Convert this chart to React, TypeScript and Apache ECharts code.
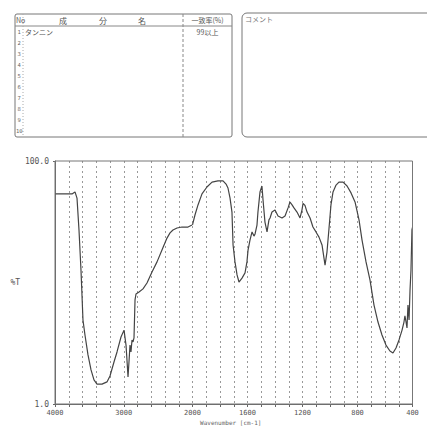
import React, { useEffect, useRef } from "react";
import * as echarts from "echarts";

// Spectrum (wavenumber in cm-1, transmittance in %T)
const wavenumbers = [
  4000, 3855, 3753, 3709, 3680, 3651, 3622, 3593, 3564, 3520, 3476, 3433, 3389, 3316, 3244, 3200,
  3142, 3098, 3040, 2996, 2967, 2953, 2938, 2924, 2909, 2895, 2880, 2865, 2851, 2836, 2822, 2778,
  2720, 2662, 2589, 2516, 2444, 2371, 2327, 2284, 2225, 2153, 2065, 2007, 2000,
  1982, 1960, 1931, 1895, 1858, 1815, 1778, 1756, 1742, 1727, 1713, 1705, 1691, 1676, 1662, 1640,
  1618, 1604, 1596, 1582, 1567, 1553, 1545, 1531, 1524, 1509, 1495, 1487, 1473, 1458, 1444, 1436,
  1422, 1400, 1378, 1349, 1327, 1305, 1291, 1276, 1262, 1240, 1218, 1204, 1196, 1182, 1167, 1145,
  1124, 1102, 1080, 1058, 1044, 1036, 1022, 1007, 993, 978, 956, 935, 905, 876, 847, 818, 789, 767,
  738, 709, 680, 651, 622, 593, 564, 542, 520, 498, 476, 462, 455, 447, 440, 433, 425, 418, 411, 404, 400,
];
const transmittance = [
  86.6, 86.6, 86.6, 87.4, 84.9, 71.9, 55.6, 35.2, 29.1, 21.0, 14.9, 10.8, 9.1, 9.1, 10.0, 12.4,
  18.1, 22.2, 28.3, 31.1, 25.0, 18.9, 12.0, 18.1, 25.0, 22.2, 27.1, 26.3, 27.9, 43.4, 45.8, 46.6,
  47.9, 50.3, 54.8, 58.9, 63.7, 68.6, 70.7, 71.9, 72.7, 73.1, 73.1, 73.9, 74.0,
  78.0, 82.1, 86.6, 89.4, 91.4, 91.9, 91.9, 90.6, 89.0, 84.9, 79.2, 65.8, 58.9, 53.6, 50.7, 52.3,
  54.4, 58.9, 63.7, 67.8, 71.1, 69.4, 70.3, 73.9, 79.2, 87.4, 89.8, 84.1, 75.1, 71.1, 76.0, 76.8,
  79.2, 80.0, 77.6, 76.8, 77.6, 80.9, 83.3, 82.1, 80.9, 79.2, 76.8, 80.0, 82.7, 81.9, 79.2, 76.8,
  73.1, 71.1, 69.0, 65.8, 60.5, 57.6, 62.9, 72.7, 82.1, 87.4, 90.2, 91.4, 91.4, 89.8, 87.0, 83.3, 76.0, 67.8,
  58.9, 51.5, 41.3, 34.4, 29.1, 25.0, 22.6, 21.8, 23.8, 27.1, 31.1, 34.4, 36.9, 34.4, 32.0, 41.3, 35.2, 47.4, 55.6, 71.9, 73.0,
];

const leftTicks = ["4000", "3000", "2000"];
const rightTicks = ["1600", "1200", "800", "400"];
const yTickValues = [1, 100];

const rowNumbers = ["1", "2", "3", "4", "5", "6", "7", "8", "9", "10"];
const componentNames = ["タンニン"];
const matchRates = ["99以上"];

const GRAY = "#666";
const FONT_JP = "'Noto Sans CJK JP', sans-serif";
const FONT_NUM = "'DejaVu Sans Mono', monospace";

export default function App() {
  const ref = useRef<HTMLDivElement>(null);

  useEffect(() => {
    if (!ref.current) return;
    const chart = echarts.init(ref.current, null, { renderer: "svg" });

    const pts = wavenumbers.map((w, i) => [w, transmittance[i]]);
    const highPart = pts.filter((p) => p[0] >= 2000);
    const lowPart = pts.filter((p) => p[0] <= 2000);

    const plotL = 55, plotT = 161, plotW = 357.5, plotH = 243;
    const splitX = plotL + 137.5;

    const xCommon = {
      type: "value",
      inverse: true,
      axisLine: { show: true, lineStyle: { color: GRAY, width: 1 } },
      axisTick: { show: true, length: 3, lineStyle: { color: GRAY } },
      splitLine: { show: true, lineStyle: { color: "#999", width: 1, type: [2, 3] } },
      axisLabel: { color: "#555", fontSize: 7, fontFamily: FONT_NUM, margin: 5, showMinLabel: true, showMaxLabel: true },
    };

    const graphics: any[] = [];
    // Plot frame
    graphics.push({
      type: "rect",
      shape: { x: plotL, y: plotT, width: plotW, height: plotH },
      style: { fill: "none", stroke: "#777", lineWidth: 1 },
      z: 10,
    });
    graphics.push({
      type: "text",
      x: plotL + plotW / 2 - 3,
      y: 422,
      style: { text: "Wavenumber [cm-1]", fill: "#666", fontSize: 6, fontFamily: FONT_NUM, align: "center", verticalAlign: "middle" },
    });

    // Left table
    const tL = 15, tT = 14, tR = 232, tB = 137, hdrB = 26, colDiv = 183, noDiv = 23;
    graphics.push({ type: "rect", shape: { x: tL, y: tT, width: tR - tL, height: tB - tT, r: 2 }, style: { fill: "none", stroke: "#777", lineWidth: 1 } });
    graphics.push({ type: "line", shape: { x1: tL, y1: hdrB, x2: tR, y2: hdrB }, style: { stroke: "#888", lineWidth: 1 } });
    graphics.push({ type: "line", shape: { x1: colDiv, y1: tT, x2: colDiv, y2: tB }, style: { stroke: "#888", lineWidth: 1, lineDash: [3, 2] } });
    graphics.push({ type: "line", shape: { x1: noDiv, y1: tT, x2: noDiv, y2: tB }, style: { stroke: "#aaa", lineWidth: 1, lineDash: [1, 2] } });
    const hdrY = (tT + hdrB) / 2;
    const hdrStyle = { fill: "#555", fontSize: 8, fontFamily: FONT_JP, verticalAlign: "middle" };
    graphics.push({ type: "text", x: 16, y: hdrY, style: { ...hdrStyle, text: "No", fontSize: 7 } });
    [["成", 63], ["分", 103], ["名", 142]].forEach(([t, x]) =>
      graphics.push({ type: "text", x: x as number, y: hdrY, style: { ...hdrStyle, text: t as string, align: "center" } })
    );
    graphics.push({ type: "text", x: (colDiv + tR) / 2, y: hdrY, style: { ...hdrStyle, text: "一致率(%)", fontSize: 7, align: "center" } });
    const rowH = (tB - hdrB) / rowNumbers.length;
    rowNumbers.forEach((n, i) => {
      graphics.push({
        type: "text", x: 19.2, y: hdrB + rowH * (i + 0.5),
        style: { text: n, fill: "#666", fontSize: 5.5, fontFamily: FONT_NUM, align: "center", verticalAlign: "middle" },
      });
    });
    componentNames.forEach((name, i) => {
      graphics.push({
        type: "text", x: 25, y: hdrB + rowH * (i + 0.5),
        style: { text: name, fill: "#555", fontSize: 7, fontFamily: FONT_JP, verticalAlign: "middle" },
      });
    });
    matchRates.forEach((r, i) => {
      graphics.push({
        type: "text", x: (colDiv + tR) / 2, y: hdrB + rowH * (i + 0.5),
        style: { text: r, fill: "#555", fontSize: 7, fontFamily: FONT_JP, align: "center", verticalAlign: "middle" },
      });
    });

    // Right (comment) box
    graphics.push({ type: "rect", shape: { x: 242, y: 13, width: 200, height: 124, r: 5 }, style: { fill: "none", stroke: "#777", lineWidth: 1 } });
    graphics.push({ type: "text", x: 245, y: 19, style: { text: "コメント", fill: "#777", fontSize: 7, fontFamily: FONT_JP, verticalAlign: "middle" } });

    chart.setOption({
      animation: false,
      backgroundColor: "#fff",
      grid: [
        { left: plotL, top: plotT, width: splitX - plotL, height: plotH },
        { left: splitX, top: plotT, width: plotL + plotW - splitX, height: plotH },
      ],
      xAxis: [
        {
          ...xCommon,
          gridIndex: 0,
          min: 2000,
          max: 4000,
          interval: 200,
          axisLabel: { ...xCommon.axisLabel, formatter: (v: number) => (leftTicks.includes(String(v)) ? String(v) : "") },
        },
        {
          ...xCommon,
          gridIndex: 1,
          min: 400,
          max: 2000,
          interval: 100,
          axisLabel: { ...xCommon.axisLabel, formatter: (v: number) => (rightTicks.includes(String(v)) ? String(v) : "") },
        },
      ],
      yAxis: [
        {
          gridIndex: 0,
          type: "value",
          min: 1,
          max: 100,
          name: "%T",
          nameLocation: "middle",
          nameRotate: 0,
          nameGap: 14,
          nameTextStyle: { color: "#555", fontSize: 8, fontFamily: FONT_NUM, align: "right" },
          axisLine: { show: true, lineStyle: { color: GRAY } },
          axisTick: { show: true, length: 2, customValues: yTickValues, lineStyle: { color: GRAY } },
          splitLine: { show: false },
          axisLabel: {
            customValues: yTickValues,
            formatter: (v: number) => v.toFixed(1),
            color: "#555",
            fontSize: 8,
            fontFamily: FONT_NUM,
            margin: 6,
          },
        },
        { gridIndex: 1, type: "value", min: 1, max: 100, show: false, splitLine: { show: false } },
      ],
      series: [
        {
          type: "line",
          xAxisIndex: 0,
          yAxisIndex: 0,
          data: highPart,
          showSymbol: false,
          symbol: "none",
          lineStyle: { color: "#444", width: 1.2 },
        },
        {
          type: "line",
          xAxisIndex: 1,
          yAxisIndex: 1,
          data: lowPart,
          showSymbol: false,
          symbol: "none",
          lineStyle: { color: "#444", width: 1.2 },
        },
      ],
      graphic: graphics,
    });

    return () => chart.dispose();
  }, []);

  return <div ref={ref} style={{ width: 427, height: 428, position: "absolute", left: 0, top: 0 }} />;
}
